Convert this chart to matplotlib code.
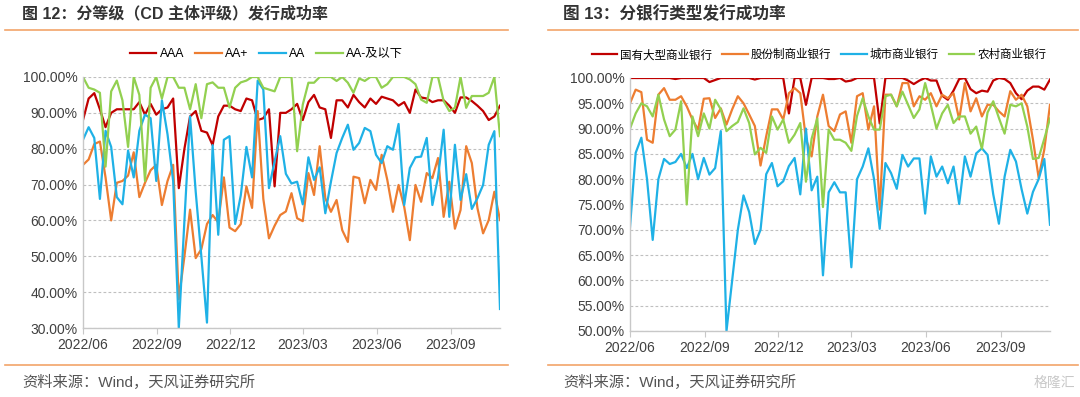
import matplotlib
matplotlib.use('Agg')
import matplotlib.pyplot as plt
import pandas as pd
from matplotlib.lines import Line2D

plt.rcParams['font.family'] = ['Liberation Sans', 'Noto Sans CJK SC']

# weekly observations
dates = pd.date_range('2022-06-01', periods=75, freq='7D')
tick_dates = pd.to_datetime(['2022-06-01', '2022-09-01', '2022-12-01',
                             '2023-03-01', '2023-06-01', '2023-09-01'])
tick_labels = ['2022/06', '2022/09', '2022/12', '2023/03', '2023/06', '2023/09']

# ---- 图12: by rating ----
rating_names = ['AAA', 'AA+', 'AA', 'AA-及以下']
aaa = [88, 94, 95.5, 91, 86, 90, 91, 91, 91, 91,
       93, 89.5, 92.5, 89.5, 91, 91.5, 94, 69, 80, 89,
       90.5, 85, 84.5, 81, 89, 92, 92, 91, 90.5, 94,
       93.5, 88, 88.5, 91, 69.5, 90, 90, 91, 92.5, 88,
       93, 95, 91.5, 91, 83, 93.5, 93.5, 91.5, 95, 93,
       91.5, 94, 92.5, 94.5, 94, 93.5, 92, 93, 90, 96.5,
       94.3, 94, 93, 93.5, 93.5, 92, 90, 94.3, 94.3, 93.3,
       92, 90.5, 88, 89, 92]
aa_plus = [75.5, 77, 81.3, 82, 72, 60, 70.5, 71, 72.5, 79,
           66.5, 70.5, 74, 75.5, 64.3, 71, 75.5, 38, 50, 63,
           49.5, 52, 59, 61.5, 59.5, 72, 58, 57, 59, 69.5,
           63.5, 90.5, 66, 55, 58.5, 61.5, 62.5, 67.6, 60.6, 59.8,
           73.2, 67.1, 80.7, 66.2, 62.4, 65.7, 57.3, 54, 72.2, 71.8,
           64.8, 71.3, 68.5, 78.3, 71.3, 62.4, 69.9, 63.8, 54.5, 69.9,
           65.2, 73.2, 71.8, 77.4, 61, 70.8, 57.7, 62.9, 80.7, 76,
           63.4, 56.4, 60.1, 68, 60.1]
aa = [82.5, 86, 83, 66, 85, 80.5, 66.5, 64.5, 79.5, 72,
      85, 89.5, 88.5, 71, 93.5, 84, 71, 30, 60, 89,
      68, 50, 31.5, 81, 56, 82.5, 83.5, 59, 67, 80.5,
      72, 99, 96.5, 69, 76.5, 83.5, 73, 70.3, 70.8, 64.5,
      77.6, 71.3, 74.8, 62, 70.8, 78.8, 83, 86.7, 79.7, 81.6,
      85.8, 84.9, 78.3, 76, 80.7, 79.7, 86.9, 64.3, 74.6, 77.6,
      77.8, 83, 64.3, 72, 85.3, 61, 81.1, 65.7, 72.9, 63.2,
      66.2, 69.9, 81.1, 84.9, 35.3]
aa_minus = [100, 97, 96.5, 95.6, 75, 96, 99, 93.5, 80.5, 100,
            95, 71, 97, 100, 94, 100, 100, 97, 97, 91,
            98, 88.5, 98, 98.5, 97, 97, 91.5, 97, 98.5, 99,
            100, 100, 97, 96.5, 96, 100, 100, 100, 79.3, 92.3,
            98.4, 98.4, 100, 100, 100, 98.9, 100, 98.4, 95.6, 99.6,
            98.9, 100, 100, 97, 98, 100, 100, 100, 99.3, 98,
            93.7, 92.8, 100, 100, 93.3, 90.5, 91.4, 100, 91.4, 94.7,
            94.7, 94.7, 95.6, 100, 83.5]

# ---- 图13: by bank type ----
bank_names = ['国有大型商业银行', '股份制商业银行', '城市商业银行', '农村商业银行']
big_bank = [100, 100, 100, 100, 100, 100, 100, 100, 99.8, 100,
            100, 100, 100, 100, 99.2, 99.6, 100, 100, 100, 100,
            100, 100, 99.7, 100, 100, 100, 100, 100, 93, 100,
            100, 94.7, 100, 100, 100, 99.8, 99.8, 100, 99.3, 99.5,
            100, 100, 100, 100, 91, 100, 100, 100, 100, 99.5,
            98.8, 99.5, 100, 99.5, 99.5, 96.5, 95.7, 97.5, 99.8, 100,
            97.8, 97, 97.5, 97.3, 99.5, 100, 99.8, 99, 97, 95.8,
            97.5, 98.3, 98.3, 97.7, 99.7]
joint_bank = [95, 97.7, 97.2, 87.8, 87.2, 96.7, 98, 95.7, 95.7, 96.4,
              94.4, 91.8, 89.8, 95.9, 96, 92.1, 94, 90.8, 93.8, 96.4,
              95, 92.8, 90.5, 82.7, 88.5, 93.8, 93.8, 91.8, 97, 98,
              97, 88, 84.5, 92.4, 96.7, 90.5, 89.5, 92.8, 93.4, 87.2,
              96.4, 97, 89.8, 94.4, 74, 96.7, 96.7, 94.4, 99, 99,
              94.4, 96.4, 95.7, 97, 94.4, 96.7, 96, 97, 91.8, 99,
              93.4, 96, 92.4, 94.7, 94.7, 93.4, 92.4, 97.4, 95.7, 96.7,
              94.4, 87.8, 80.3, 85.9, 94.7]
city_bank = [70.5, 85.2, 88.2, 80, 68, 80, 84, 83, 83.4, 85,
             82.2, 85, 80, 84.2, 80.9, 82.2, 89.5, 50, 60, 70,
             76.8, 73.5, 67.2, 70, 81, 83.2, 78.6, 79.6, 82.6, 84.2,
             77, 90, 77.8, 80.5, 61, 77.4, 79.4, 77.4, 77.4, 62.6,
             80, 82.5, 86.1, 80, 70.2, 83.2, 81.2, 78.1, 84.8, 82.5,
             84.1, 84.1, 73.2, 84.5, 80.5, 82.5, 79.2, 82.5, 75.1, 84.5,
             80.5, 85.1, 86.1, 84.8, 77, 71.2, 80.5, 85.8, 83.5, 78,
             73.2, 77.5, 80, 84, 71]
rural_bank = [90, 93, 95, 94.4, 92.4, 96.7, 91.8, 88.5, 89.8, 95.4,
              75, 92.4, 88.5, 93, 90, 95.7, 93.8, 89.5, 90.5, 91.3,
              94, 91.1, 84.9, 86.2, 85.2, 92.4, 89.8, 91.8, 87.2, 88.8,
              91.1, 79.5, 88, 92, 74.5, 89.8, 87.8, 87.8, 87.2, 85.6,
              92.5, 96, 92.4, 89.8, 89.8, 96.4, 96.7, 94.4, 97.3, 94.7,
              92.1, 93.8, 99, 94.7, 90, 93, 94.7, 91.1, 92.4, 92.4,
              89, 90.4, 86, 93.2, 95.4, 92.1, 89, 94.7, 94.4, 95,
              90.4, 84, 84.2, 88, 92]

colors = ['#C00000', '#ED7D31', '#1FB1E6', '#92D050']

W, H = 1080, 397
fig = plt.figure(figsize=(W / 100, H / 100), dpi=100)
fig.patch.set_facecolor('white')


def setup_axes(ax, series, names, ymin, ymax, ystep, leg_x, leg_fs):
    for s, n, c in zip(series, names, colors):
        ax.plot(dates, s, color=c, lw=1.6, label=n)
    ax.set_xlim(dates[0], dates[-1])
    ax.set_ylim(ymin, ymax)
    yt = list(range(ymin, ymax + 1, ystep))
    ax.set_yticks(yt)
    ax.set_yticklabels(['%.2f%%' % v for v in yt])
    ax.set_xticks(tick_dates)
    ax.set_xticklabels(tick_labels)
    ax.yaxis.grid(True, color='#BFBFBF', linestyle=(0, (2.5, 2)), lw=0.8)
    ax.set_axisbelow(True)
    for sp in ['top', 'right']:
        ax.spines[sp].set_visible(False)
    for sp in ['left', 'bottom']:
        ax.spines[sp].set_color('#C8C8C8')
        ax.spines[sp].set_linewidth(1.0)
    ax.tick_params(axis='x', colors='#C8C8C8', labelcolor='#404040',
                   labelsize=10, length=4, pad=3)
    ax.tick_params(axis='y', colors='#C8C8C8', labelcolor='#404040',
                   labelsize=10, length=0, pad=4)
    ax.legend(loc='center', bbox_to_anchor=(leg_x, 1.09), ncol=4,
              frameon=False, fontsize=leg_fs, handlelength=2.2,
              columnspacing=0.9, handletextpad=0.25)


ax1 = fig.add_axes([83 / W, 1 - 328 / H, 417 / W, 251 / H])
setup_axes(ax1, [aaa, aa_plus, aa, aa_minus], rating_names, 30, 100, 10,
           0.44, 8.8)

ax2 = fig.add_axes([630 / W, 1 - 331 / H, 420 / W, 253 / H])
setup_axes(ax2, [big_bank, joint_bank, city_bank, rural_bank], bank_names,
           50, 100, 5, 0.45, 8.3)

# titles, rules and sources
orange = '#F2A46A'
fig.text(22 / W, 1 - 14 / H, '图 12：分等级（CD 主体评级）发行成功率',
         fontsize=11.5, fontweight='bold', color='#333333', va='center')
fig.text(563 / W, 1 - 14 / H, '图 13：分银行类型发行成功率',
         fontsize=12, fontweight='bold', color='#333333', va='center')
for x0, x1 in [(5, 508), (548, 1078)]:
    for yy in (30, 365):
        fig.add_artist(Line2D([x0 / W, x1 / W], [1 - yy / H, 1 - yy / H],
                              color=orange, lw=1.2))
fig.text(22 / W, 1 - 382 / H, '资料来源：Wind，天风证券研究所',
         fontsize=11, color='#555555', va='center')
fig.text(563 / W, 1 - 382 / H, '资料来源：Wind，天风证券研究所',
         fontsize=11, color='#555555', va='center')
fig.text(1075 / W, 1 - 383 / H, '格隆汇', fontsize=10, color='#C8C8C8',
         va='center', ha='right')

fig.savefig('out.png', dpi=100)
